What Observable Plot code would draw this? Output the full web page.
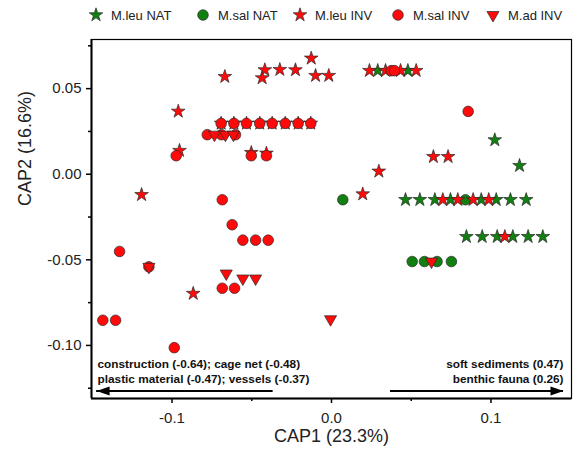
<!DOCTYPE html>
<html>
<head>
<meta charset="utf-8">
<script src="https://cdn.jsdelivr.net/npm/d3@7"></script>
<script src="https://cdn.jsdelivr.net/npm/@observablehq/plot@0.6"></script>
<style>
  body { margin: 0; background: white; font-family: "Liberation Sans", Arial, sans-serif; }
  #legend { position: relative; height: 30px; width: 577px; }
  .item { position: absolute; top: 6px; display: flex; align-items: center; font-size: 13px; color: #222; }
  .item svg { width: 18px; height: 18px; margin-right: 6px; overflow: visible; }
</style>
</head>
<body>
<div id="legend"></div>
<div id="chart"></div>
<script>
// ---- data (CAP1, CAP2) ----
const leuNat = [
  [0.0290, 0.0605], [0.0479, 0.0605],
  [0.1024, 0.0200], [0.1179, 0.0050],
  [0.0464, -0.0149], [0.0554, -0.0149], [0.0648, -0.0149], [0.0746, -0.0149],
  [0.0939, -0.0149], [0.1033, -0.0149], [0.1122, -0.0149], [0.1221, -0.0149],
  [0.0846, -0.0365], [0.0945, -0.0365], [0.1039, -0.0365], [0.1137, -0.0365],
  [0.1233, -0.0365], [0.1325, -0.0365]
];
const salNat = [
  [0.0071, -0.0149], [0.0840, -0.0149],
  [0.0506, -0.0510], [0.0583, -0.0510], [0.0662, -0.0510], [0.0752, -0.0510]
];
const leuInv = [
  [-0.0669, 0.0570], [-0.0418, 0.0609], [-0.0435, 0.0562], [-0.0324, 0.0611],
  [-0.0226, 0.0609], [-0.0127, 0.0677], [-0.0100, 0.0576], [-0.0017, 0.0576],
  [-0.0961, 0.0367],
  [0.0238, 0.0605], [0.0339, 0.0605], [0.0433, 0.0605], [0.0531, 0.0605],
  [-0.0692, 0.0297], [-0.0612, 0.0297], [-0.0533, 0.0297], [-0.0450, 0.0297],
  [-0.0372, 0.0297], [-0.0290, 0.0297], [-0.0209, 0.0297], [-0.0130, 0.0297],
  [-0.0953, 0.0138], [-0.0503, 0.0126], [-0.0408, 0.0122],
  [-0.1191, -0.0120], [-0.0867, -0.0697],
  [0.0639, 0.0102], [0.0731, 0.0102], [0.0297, 0.0017], [0.0196, -0.0116],
  [0.0698, -0.0149], [0.0792, -0.0149], [0.0888, -0.0149], [0.0986, -0.0149],
  [0.1087, -0.0365]
];
const salInv = [
  [-0.0692, 0.0297], [-0.0612, 0.0297], [-0.0533, 0.0297], [-0.0450, 0.0297],
  [-0.0372, 0.0297], [-0.0290, 0.0297], [-0.0209, 0.0297], [-0.0130, 0.0297],
  [-0.0779, 0.0231], [-0.0690, 0.0231], [-0.0602, 0.0231],
  [-0.0974, 0.0108], [-0.0503, 0.0108], [-0.0408, 0.0108],
  [-0.0685, -0.0149], [-0.0623, -0.0295],
  [-0.0556, -0.0385], [-0.0476, -0.0385], [-0.0397, -0.0385],
  [-0.1329, -0.0451], [-0.1145, -0.0541],
  [-0.0685, -0.0666], [-0.0608, -0.0666],
  [-0.1434, -0.0853], [-0.1354, -0.0853], [-0.0986, -0.1013],
  [0.0375, 0.0605], [0.0395, 0.0605], [0.0857, 0.0367]
];
const adInv = [
  [-0.0734, 0.0231], [-0.0665, 0.0231], [-0.0615, 0.0231],
  [-0.1145, -0.0541], [-0.0660, -0.0580], [-0.0556, -0.0609], [-0.0476, -0.0609],
  [-0.0006, -0.0847], [0.0627, -0.0510]
];
const seriesNames = ["M.leu NAT", "M.sal NAT", "M.leu INV", "M.sal INV", "M.ad INV"];
const xMajor = [-0.1, 0, 0.1];
const xMinor = [-0.05, 0.05];
const yMajor = [-0.10, -0.05, 0, 0.05];
const yMinor = [-0.125, -0.075, -0.025, 0.025, 0.075];
const xDomain = [-0.1505, 0.1505];
const yDomain = [-0.131, 0.0787];
const arrowLeft = [{x1: -0.0366, x2: -0.1473, y: -0.1266}];
const arrowRight = [{x1: 0.0370, x2: 0.1455, y: -0.1266}];
const annotLeft = [
  {x: -0.1467, y: -0.1108, text: "construction (-0.64); cage net (-0.48)"},
  {x: -0.1467, y: -0.1196, text: "plastic material (-0.47); vessels (-0.37)"}
];
const annotRight = [
  {x: 0.1455, y: -0.1108, text: "soft sediments (0.47)"},
  {x: 0.1455, y: -0.1196, text: "benthic fauna (0.26)"}
];
const xLabel = "CAP1 (23.3%)";
const yLabel = "CAP2 (16.6%)";

// ---- styling ----
const GREEN = "#118011";
const RED = "#ff0a0a";
const EDGE = "#2a2a2a";
const triangleDown = {
  draw(ctx, size) {
    const s3 = Math.sqrt(3);
    const y = Math.sqrt(size / (s3 * 3));
    ctx.moveTo(0, y * 2);
    ctx.lineTo(-s3 * y, -y);
    ctx.lineTo(s3 * y, -y);
    ctx.closePath();
  }
};
const headLeft = { draw(ctx) { ctx.moveTo(0, 0); ctx.lineTo(13, -4.5); ctx.lineTo(13, 4.5); ctx.closePath(); } };
const headRight = { draw(ctx) { ctx.moveTo(0, 0); ctx.lineTo(-13, -4.5); ctx.lineTo(-13, 4.5); ctx.closePath(); } };

const R = {star: 4.3, circle: 5.3, tri: 4.5};
const styles = [
  {symbol: "star", r: R.star, fill: GREEN},
  {symbol: "circle", r: R.circle, fill: GREEN},
  {symbol: "star", r: R.star, fill: RED},
  {symbol: "circle", r: R.circle, fill: RED},
  {symbol: triangleDown, r: R.tri, fill: RED}
];
const allSeries = [leuNat, salNat, leuInv, salInv, adInv];

// ---- legend ----
const legendLeft = [87, 194, 291, 389, 484];
const legend = document.getElementById("legend");
seriesNames.forEach((name, i) => {
  const st = styles[i];
  const type = st.symbol === "star" ? d3.symbolStar : st.symbol === "circle" ? d3.symbolCircle : triangleDown;
  const path = d3.symbol(type, Math.PI * st.r * st.r)();
  const div = document.createElement("div");
  div.className = "item";
  div.style.left = legendLeft[i] + "px";
  div.innerHTML = `<svg viewBox="-9 -9 18 18"><path d="${path}" fill="${st.fill}" stroke="${EDGE}" stroke-width="0.7"/></svg><span>${name}</span>`;
  legend.appendChild(div);
});

// ---- chart ----
const px = d => d[0], py = d => d[1];
const chart = Plot.plot({
  width: 577,
  height: 419,
  marginTop: 9,
  marginBottom: 51,
  marginLeft: 91,
  marginRight: 6,
  x: {domain: xDomain, label: null},
  y: {domain: yDomain, label: null},
  style: {fontFamily: "'Liberation Sans', Arial, sans-serif", fontSize: "15px", color: "black", background: "white", overflow: "visible"},
  marks: [
    Plot.frame({stroke: "black", strokeWidth: 1.2}),
    Plot.axisX({ticks: xMajor, tickSize: 5, tickPadding: 9, strokeWidth: 1.5, tickFormat: d => d.toFixed(1), fontSize: 15, fill: "#222", label: null}),
    Plot.axisX({ticks: xMinor, tickSize: 3, strokeWidth: 1.5, tickFormat: () => "", label: null}),
    Plot.axisY({ticks: yMajor, tickSize: 5, tickPadding: 5, strokeWidth: 1.5, tickFormat: d => d.toFixed(2), fontSize: 15, fill: "#222", label: null}),
    Plot.axisY({ticks: yMinor, tickSize: 3, strokeWidth: 1.5, tickFormat: () => "", label: null}),
    Plot.ruleX([xDomain[0]], {stroke: "black", strokeWidth: 2}),
    Plot.ruleY([yDomain[0]], {stroke: "black", strokeWidth: 2}),
    ...allSeries.map((data, i) => Plot.dot(data, {
      x: px, y: py, symbol: styles[i].symbol, r: styles[i].r,
      fill: styles[i].fill, stroke: EDGE, strokeWidth: 0.7
    })),
    Plot.ruleY(arrowLeft, {y: "y", x1: "x1", x2: "x2", stroke: "black", strokeWidth: 2}),
    Plot.ruleY(arrowRight, {y: "y", x1: "x1", x2: "x2", stroke: "black", strokeWidth: 2}),
    Plot.dot(arrowLeft, {x: "x2", y: "y", symbol: headLeft, fill: "black", stroke: "none"}),
    Plot.dot(arrowRight, {x: "x2", y: "y", symbol: headRight, fill: "black", stroke: "none"}),
    Plot.text(annotLeft, {x: "x", y: "y", text: "text", textAnchor: "start", fontWeight: "bold", fontSize: 11.8, fill: "#111"}),
    Plot.text(annotRight, {x: "x", y: "y", text: "text", textAnchor: "end", fontWeight: "bold", fontSize: 11.8, fill: "#111"}),
    Plot.text([xLabel], {text: d => d, frameAnchor: "bottom", dy: 43, fontSize: 18, fill: "#222"}),
    Plot.text([yLabel], {text: d => d, frameAnchor: "left", dx: -66, dy: -13, rotate: -90, fontSize: 18, fill: "#222"})
  ]
});
document.getElementById("chart").appendChild(chart);
</script>
</body>
</html>
